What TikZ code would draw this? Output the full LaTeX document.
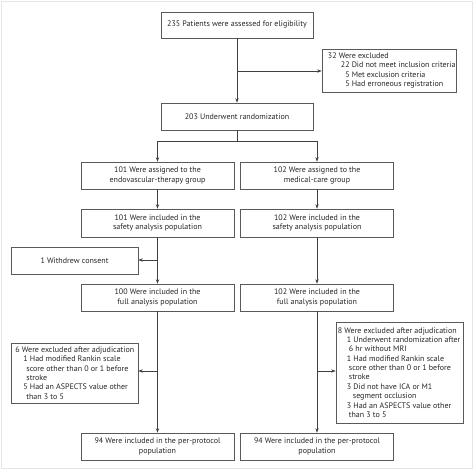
\documentclass[tikz,border=0pt]{standalone}
\usepackage{fontspec}
\setmainfont{PT Sans}
\usetikzlibrary{arrows.meta}
\newcommand\figfs{\fontsize{8.0}{9.35}\selectfont}
\newcommand\ind[1]{\hspace*{#1}}
\begin{document}
\begin{tikzpicture}[x=1pt,y=-1pt,
  box/.style={draw=black!65, line width=0.6pt, inner sep=0pt, align=center, font=\figfs, text=black!85},
  frame/.style={draw=black!65, line width=0.6pt, inner sep=0pt},
  txt/.style={inner sep=0pt, align=left, font=\figfs, text=black!85, anchor=west},
  conn/.style={draw=black!75, line width=0.7pt},
  arr/.style={conn, -{Stealth[length=4.5pt,width=3.4pt]}}]
\useasboundingbox (0,0) rectangle (474,471);
\draw[black!10, line width=0.8pt] (1.5,1.2) rectangle (472,468.5);

\node[box, minimum width=152pt, minimum height=26pt] (elig) at (237,25) {235 Patients were assessed for eligibility};
\node[frame, minimum width=134pt, minimum height=43pt] (excl) at (389,70.5) {};
\node[txt] (exclT) at ([xshift=6pt]excl.west)
 {32 Were excluded\\
  \ind{13pt}22 Did not meet inclusion criteria\\
  \ind{13pt}\phantom{2}5 Met exclusion criteria\\
  \ind{13pt}\phantom{2}5 Had erroneous registration};
\node[box, minimum width=152pt, minimum height=27pt] (rand) at (237,116.5) {203 Underwent randomization};

\node[box, minimum width=153pt, minimum height=27pt] (assL) at (157.5,175.5) {101 Were assigned to the\\endovascular-therapy group};
\node[box, minimum width=153pt, minimum height=27pt] (assR) at (317,175.5) {102 Were assigned to the\\medical-care group};

\node[box, minimum width=153pt, minimum height=28pt] (safL) at (157.5,223) {101 Were included in the\\safety analysis population};
\node[box, minimum width=153pt, minimum height=28pt] (safR) at (317,223) {102 Were included in the\\safety analysis population};

\node[box, minimum width=127pt, minimum height=27pt] (wd) at (74.5,260.5) {1 Withdrew consent};

\node[box, minimum width=153pt, minimum height=27pt] (fulL) at (157.5,297.5) {100 Were included in the\\full analysis population};
\node[box, minimum width=153pt, minimum height=27pt] (fulR) at (317,297.5) {102 Were included in the\\full analysis population};

\node[frame, minimum width=127pt, minimum height=60pt] (exL) at (74.5,373) {};
\node[txt] (exLT) at ([xshift=4.5pt]exL.west)
 {6 Were excluded after adjudication\\
  \ind{8pt}1 Had modified Rankin scale\\
  \ind{11pt}score other than 0 or 1 before\\
  \ind{11pt}stroke\\
  \ind{8pt}5 Had an ASPECTS value other\\
  \ind{11pt}than 3 to 5};

\node[frame, minimum width=127pt, minimum height=101pt] (exR) at (399.5,372.5) {};
\node[txt] (exRT) at ([xshift=2pt]exR.west)
 {8 Were excluded after adjudication\\
  \ind{9pt}1 Underwent randomization after\\
  \ind{11pt}6 hr without MRI\\
  \ind{9pt}1 Had modified Rankin scale\\
  \ind{11pt}score other than 0 or 1 before\\
  \ind{11pt}stroke\\
  \ind{9pt}3 Did not have ICA or M1\\
  \ind{15pt}segment occlusion\\
  \ind{9pt}3 Had an ASPECTS value other\\
  \ind{11pt}than 3 to 5};

\node[box, minimum width=153pt, minimum height=27pt] (ppL) at (157.5,446.5) {94 Were included in the per-protocol\\population};
\node[box, minimum width=153pt, minimum height=27pt] (ppR) at (317,446.5) {94 Were included in the per-protocol\\population};

% connectors
\draw[arr] (elig) -- (rand);
\coordinate (b1) at (237,71);
\draw[arr] (b1) -- (b1 -| excl.west);
\coordinate (split) at (237,141);
\draw[conn] (rand) -- (split);
\draw[arr] (split) -| (assL);
\draw[arr] (split) -| (assR);
\draw[arr] (assL) -- (safL);
\draw[arr] (assR) -- (safR);
\draw[arr] (safL) -- (fulL);
\draw[arr] (safR) -- (fulR);
\coordinate (b2) at (157.5,260);
\draw[arr] (b2) -- (b2 -| wd.east);
\draw[arr] (fulL) -- (ppL);
\draw[arr] (fulR) -- (ppR);
\coordinate (b3) at (157.5,371);
\draw[arr] (b3) -- (b3 -| exL.east);
\coordinate (b4) at (317,371);
\draw[arr] (b4) -- (b4 -| exR.west);
\end{tikzpicture}
\end{document}
